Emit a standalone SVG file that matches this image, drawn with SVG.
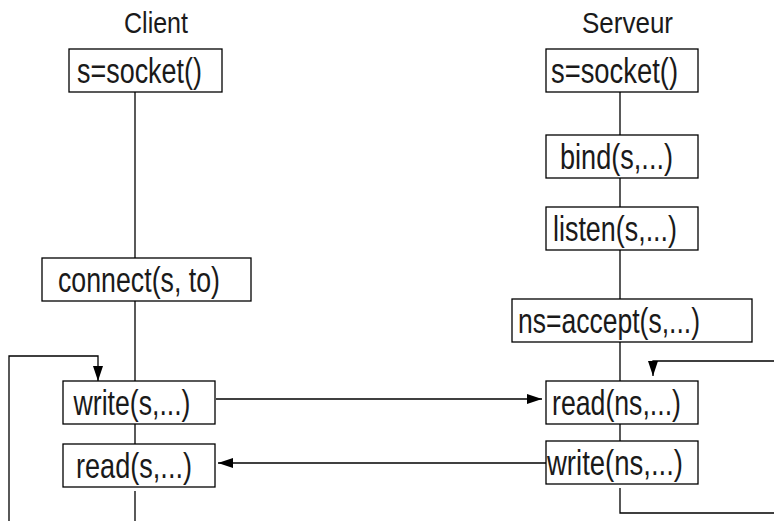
<svg xmlns="http://www.w3.org/2000/svg" width="774" height="521" viewBox="0 0 774 521">
<style>
.box{fill:#fff;stroke:#000;stroke-width:1.3}
.t{font-family:"Liberation Sans Narrow","Liberation Sans",Arial,sans-serif;font-size:35px;fill:#1a1a1a}
.h{font-family:"Liberation Sans Narrow","Liberation Sans",Arial,sans-serif;font-size:30px;fill:#1a1a1a}
.ln{fill:none;stroke:#000;stroke-width:1.3}
</style>
<defs>
<marker id="ah" markerUnits="userSpaceOnUse" markerWidth="16" markerHeight="11" refX="15" refY="5" orient="auto">
<path d="M0,0 L15,5 L0,10 z" fill="#000"/>
</marker>
</defs>
<text class="h" x="124" y="33" textLength="64" lengthAdjust="spacingAndGlyphs">Client</text>
<text class="h" x="582" y="33" textLength="91" lengthAdjust="spacingAndGlyphs">Serveur</text>
<g id="connectors">
<path class="ln" d="M135,92 V258"/>
<path class="ln" d="M135,301 V381"/>
<path class="ln" d="M135,424 V444"/>
<path class="ln" d="M135,491 V521"/>
<path class="ln" d="M9,521 V356 H98 V381" marker-end="url(#ah)"/>
<path class="ln" d="M216,399 H542" marker-end="url(#ah)"/>
<path class="ln" d="M546,463 H218" marker-end="url(#ah)"/>
<path class="ln" d="M620,92 V135"/>
<path class="ln" d="M620,178 V207"/>
<path class="ln" d="M620,250 V299"/>
<path class="ln" d="M620,342 V381"/>
<path class="ln" d="M620,424 V441"/>
<path class="ln" d="M774,361 H653 V376" marker-end="url(#ah)"/>
<path class="ln" d="M620,488 V513 H774"/>
</g>
<g id="c_socket"><rect class="box" x="69" y="49" width="153" height="43"/><text class="t" x="77" y="82.5" textLength="125" lengthAdjust="spacingAndGlyphs">s=socket()</text></g>
<g id="c_connect"><rect class="box" x="42" y="258" width="209" height="43"/><text class="t" x="58" y="291.5" textLength="162" lengthAdjust="spacingAndGlyphs">connect(s, to)</text></g>
<g id="c_write"><rect class="box" x="63" y="381" width="152" height="43"/><text class="t" x="73.5" y="414.5" textLength="117" lengthAdjust="spacingAndGlyphs">write(s,...)</text></g>
<g id="c_read"><rect class="box" x="63" y="444" width="152" height="43"/><text class="t" x="76" y="477.5" textLength="116" lengthAdjust="spacingAndGlyphs">read(s,...)</text></g>
<g id="s_socket"><rect class="box" x="546" y="49" width="152" height="43"/><text class="t" x="551" y="82.5" textLength="127" lengthAdjust="spacingAndGlyphs">s=socket()</text></g>
<g id="s_bind"><rect class="box" x="546" y="135" width="152" height="43"/><text class="t" x="560" y="168.5" textLength="113" lengthAdjust="spacingAndGlyphs">bind(s,...)</text></g>
<g id="s_listen"><rect class="box" x="546" y="207" width="152" height="43"/><text class="t" x="553" y="240.5" textLength="124" lengthAdjust="spacingAndGlyphs">listen(s,...)</text></g>
<g id="s_accept"><rect class="box" x="512" y="299" width="240" height="43"/><text class="t" x="518" y="332.5" textLength="182" lengthAdjust="spacingAndGlyphs">ns=accept(s,...)</text></g>
<g id="s_read"><rect class="box" x="546" y="381" width="152" height="43"/><text class="t" x="552" y="414.5" textLength="129" lengthAdjust="spacingAndGlyphs">read(ns,...)</text></g>
<g id="s_write"><rect class="box" x="546" y="441" width="152" height="43"/><text class="t" x="547" y="474.5" textLength="136" lengthAdjust="spacingAndGlyphs">write(ns,...)</text></g>
</svg>
